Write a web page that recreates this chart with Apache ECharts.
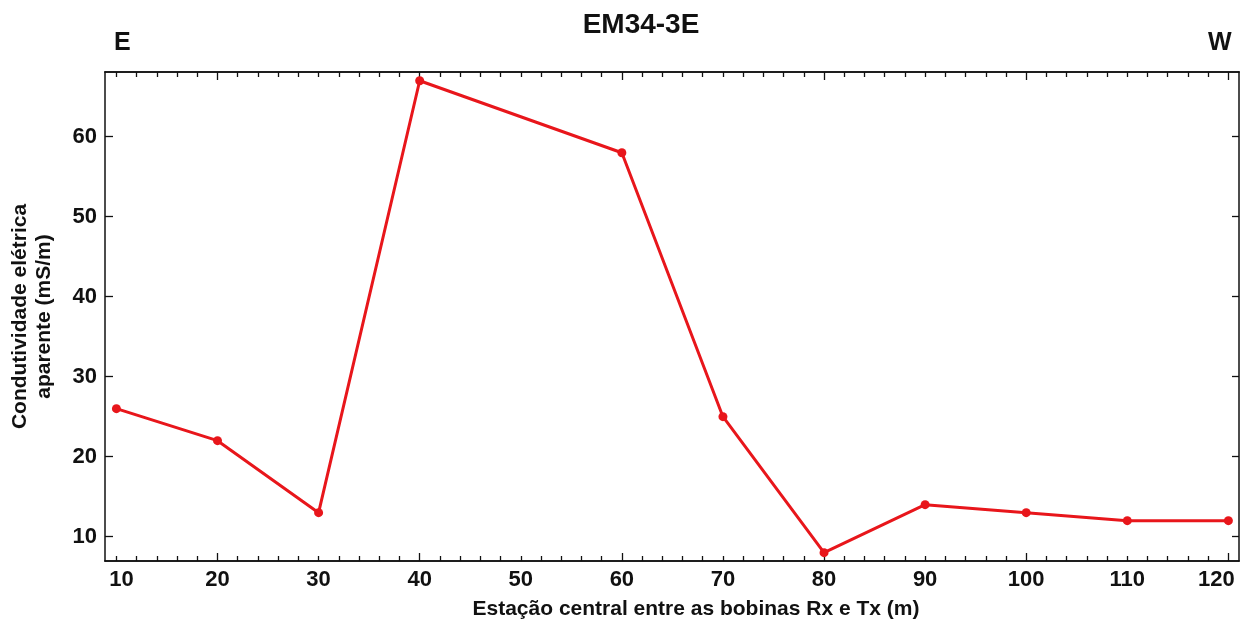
<!DOCTYPE html>
<html>
<head>
<meta charset="utf-8">
<script src="https://cdn.jsdelivr.net/npm/echarts@6/dist/echarts.min.js"></script>
<style>
html,body{margin:0;padding:0;background:#fff;}
#chart{width:1246px;height:622px;}
</style>
</head>
<body>
<div id="chart"></div>
<script>
const stations = [10, 20, 30, 40, 60, 70, 80, 90, 100, 110, 120];
const conductivity = [26, 22, 13, 67, 58, 25, 8, 14, 13, 12, 12];
const xLabelValues = [10, 20, 30, 40, 50, 60, 70, 80, 90, 100, 110, 120];
const xMajorTicks = [20, 40, 60, 80, 100, 120];
const xMinorTicks = [10, 12, 14, 16, 18, 22, 24, 26, 28, 30, 32, 34, 36, 38, 42, 44, 46, 48, 50, 52, 54, 56, 58, 62, 64, 66, 68, 70, 72, 74, 76, 78, 82, 84, 86, 88, 90, 92, 94, 96, 98, 102, 104, 106, 108, 110, 112, 114, 116, 118];
const yTickValues = [10, 20, 30, 40, 50, 60];
const titleText = 'EM34-3E';
const xName = 'Estação central entre as bobinas Rx e Tx (m)';
const yName = 'Condutividade elétrica\naparente (mS/m)';

const FONT = 'Liberation Sans, Arial, sans-serif';
const X_MIN = 8.87, X_MAX = 121.05, Y_MIN = 6.96, Y_MAX = 68.09;
const lineCol = '#111';
const red = '#e8161b';

function xAxisBase(pos, ticks, len, showLabel) {
  return {
    type: 'value', position: pos, min: X_MIN, max: X_MAX,
    axisLine: { show: true, onZero: false, lineStyle: { color: lineCol, width: 1.5 } },
    axisTick: { show: true, inside: true, length: len, customValues: ticks, lineStyle: { color: lineCol, width: 1.3 } },
    axisLabel: showLabel ? {
      show: true, customValues: xLabelValues, margin: 8,
      color: '#111', fontFamily: FONT, fontWeight: 'bold', fontSize: 22,
      formatter: v => v === 10 ? '{a|10}' : (v === 120 ? '{b|120}' : String(v)),
      rich: {
        a: { padding: [0, 0, 0, 10], color: '#111', fontFamily: FONT, fontWeight: 'bold', fontSize: 22 },
        b: { padding: [0, 24, 0, 0], color: '#111', fontFamily: FONT, fontWeight: 'bold', fontSize: 22 }
      }
    } : { show: false },
    splitLine: { show: false }
  };
}

const chart = echarts.init(document.getElementById('chart'));
chart.setOption({
  animation: false,
  backgroundColor: '#fff',
  title: {
    text: titleText, left: 636, top: 6, textAlign: 'center',
    textStyle: { fontFamily: FONT, fontWeight: 'bold', fontSize: 28, color: '#111' }
  },
  graphic: [
    { type: 'text', left: 114, top: 31, style: { text: 'E', fontFamily: FONT, fontWeight: 'bold', fontSize: 25, fill: '#111' } },
    { type: 'text', left: 1208, top: 31, style: { text: 'W', fontFamily: FONT, fontWeight: 'bold', fontSize: 25, fill: '#111' } }
  ],
  grid: { left: 105, right: 7, top: 72, bottom: 61, containLabel: false, outerBoundsMode: 'none' },
  xAxis: [
    Object.assign(xAxisBase('bottom', xMajorTicks, 8, true), {
      name: xName, nameLocation: 'middle', nameGap: 38,
      nameTextStyle: { fontFamily: FONT, fontWeight: 'bold', fontSize: 21, color: '#111', padding: [0, 0, 0, 48] }
    }),
    xAxisBase('bottom', xMinorTicks, 5, false),
    xAxisBase('top', xMajorTicks, 8, false),
    xAxisBase('top', xMinorTicks, 5, false)
  ],
  yAxis: [
    {
      type: 'value', position: 'left', min: Y_MIN, max: Y_MAX,
      name: yName, nameLocation: 'middle', nameGap: 49, nameRotate: 90,
      nameTextStyle: { fontFamily: FONT, fontWeight: 'bold', fontSize: 21, color: '#111', lineHeight: 24, align: 'center' },
      axisLine: { show: true, onZero: false, lineStyle: { color: lineCol, width: 1.5 } },
      axisTick: { show: true, inside: true, length: 8, customValues: yTickValues, lineStyle: { color: lineCol, width: 1.3 } },
      axisLabel: { customValues: yTickValues, margin: 8, color: '#111', fontFamily: FONT, fontWeight: 'bold', fontSize: 22 },
      splitLine: { show: false }
    },
    {
      type: 'value', position: 'right', min: Y_MIN, max: Y_MAX,
      axisLine: { show: true, onZero: false, lineStyle: { color: lineCol, width: 1.5 } },
      axisTick: { show: true, inside: true, length: 7, customValues: yTickValues, lineStyle: { color: lineCol, width: 1.3 } },
      axisLabel: { show: false },
      splitLine: { show: false }
    }
  ],
  series: [{
    type: 'line',
    data: stations.map((s, i) => [s, conductivity[i]]),
    xAxisIndex: 0, yAxisIndex: 0,
    symbol: 'circle', symbolSize: 9,
    lineStyle: { color: red, width: 3 },
    itemStyle: { color: red },
    z: 5
  }]
});
</script>
</body>
</html>
